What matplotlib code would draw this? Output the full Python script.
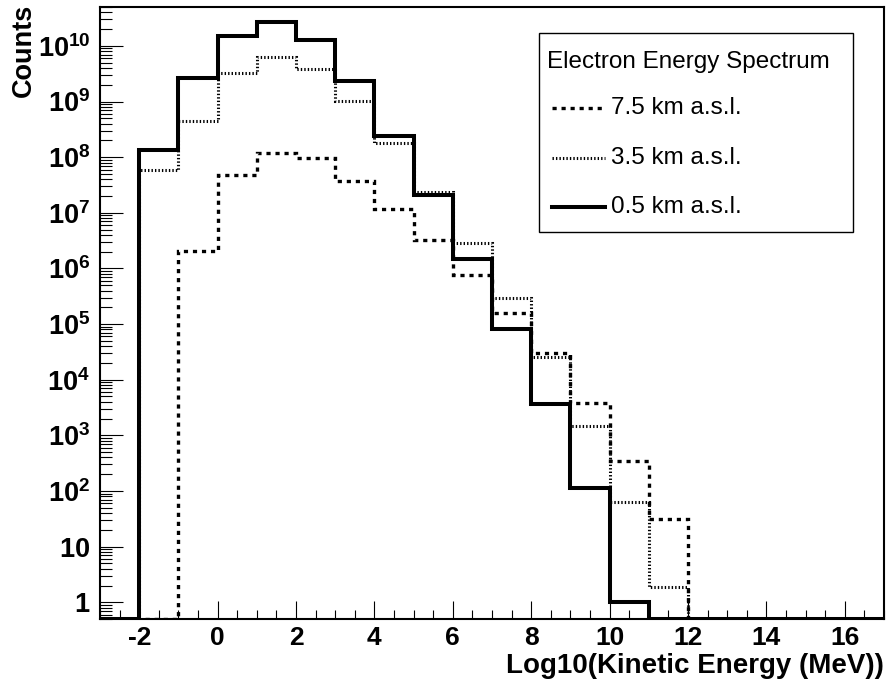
import matplotlib
matplotlib.use('Agg')
import matplotlib.pyplot as plt
from matplotlib.lines import Line2D
from matplotlib.patches import Rectangle
import numpy as np

plt.rcParams['font.family'] = ['Liberation Sans', 'DejaVu Sans']
plt.rcParams['mathtext.fontset'] = 'custom'
plt.rcParams['mathtext.rm'] = 'Liberation Sans:bold'
plt.rcParams['mathtext.it'] = 'Liberation Sans:bold'
plt.rcParams['mathtext.bf'] = 'Liberation Sans:bold'
plt.rcParams['lines.scale_dashes'] = False

# bin edges: log10(E/MeV) from -3 to 17, one unit wide
edges = np.arange(-3, 18)

# counts per bin
km75 = [0, 0, 2.1e6, 4.7e7, 1.2e8, 9.6e7, 3.7e7, 1.15e7, 3.2e6, 7.6e5,
        1.6e5, 3.0e4, 3.8e3, 3.5e2, 32, 0, 0, 0, 0, 0]
km35 = [0, 5.9e7, 4.4e8, 3.3e9, 6.3e9, 3.8e9, 1.04e9, 1.8e8, 2.4e7, 2.9e6,
        3.0e5, 2.6e4, 1.5e3, 63, 1.9, 0, 0, 0, 0, 0]
km05 = [0, 1.35e8, 2.6e9, 1.5e10, 2.7e10, 1.3e10, 2.3e9, 2.4e8, 2.1e7, 1.5e6,
        8.1e4, 3.6e3, 112, 1.0, 0, 0, 0, 0, 0, 0]

labels = ['7.5 km a.s.l.', '3.5 km a.s.l.', '0.5 km a.s.l.']
YMIN, YMAX = 0.5, 5e10

W, H = 887, 691
fig = plt.figure(figsize=(W / 100, H / 100), dpi=100)
ax = fig.add_axes([100 / W, 72 / H, 784 / W, 612 / H])

styles = [dict(linewidth=2.4, linestyle=(0, (3, 3.5))),
          dict(linewidth=2.2, linestyle=(0, (1.0, 1.5))),
          dict(linewidth=2.9, linestyle='-')]


def draw(vals, st):
    v = np.array(vals, dtype=float)
    v[v <= 0] = YMIN  # empty bins drawn on the frame, like ROOT
    ax.stairs(v, edges, baseline=None, color='black', **st)


draw(km75, styles[0])
draw(km05, styles[2])
draw(km35, styles[1])

ax.set_yscale('log')
ax.set_xlim(-3, 17)
ax.set_ylim(YMIN, YMAX)

ax.set_xticks(np.arange(-2, 17, 2))
ax.set_xticks(np.arange(-3, 17.01, 0.5), minor=True)
ax.set_xticklabels([str(t) for t in range(-2, 17, 2)])

yt = [10.0 ** k for k in range(0, 11)]
ax.set_yticks(yt)
ax.yaxis.set_minor_locator(matplotlib.ticker.LogLocator(base=10, subs=np.arange(2, 10), numticks=30))
ax.yaxis.set_minor_formatter(matplotlib.ticker.NullFormatter())
ylab = [r'$1\ $', r'$10\ $'] + [r'$10^{%d}$' % k for k in range(2, 11)]
ax.set_yticklabels(ylab)

ax.tick_params(axis='both', which='both', direction='in', top=False, right=False, width=0.8)
ax.tick_params(axis='y', which='major', length=16.5, labelsize=19.5, pad=7)
ax.tick_params(axis='y', which='minor', length=8.6)
ax.tick_params(axis='x', which='major', length=13, labelsize=19, pad=5)
ax.tick_params(axis='x', which='minor', length=6.5)
for lab in ax.get_xticklabels() + ax.get_yticklabels():
    lab.set_fontweight('bold')
for s in ax.spines.values():
    s.set_linewidth(1.5)

ax.set_xlabel('Log10(Kinetic Energy (MeV))', fontsize=20, fontweight='bold', loc='right')
ax.xaxis.label.set_va('center')
ax.xaxis.set_label_coords(1.0, -0.076)
ax.set_ylabel('Counts', fontsize=19.5, fontweight='bold', loc='top')
ax.yaxis.set_label_coords(-0.080, 1.006)

# legend box drawn ROOT-style (title as first row)
tf = fig.transFigure
fig.add_artist(Rectangle((539 / W, 1 - 232 / H), 314 / W, 199 / H, transform=tf,
                         facecolor='white', edgecolor='black', linewidth=1.0, zorder=5))
fig.text(547 / W, 1 - 62 / H, 'Electron Energy Spectrum', fontsize=17.5,
         va='center', ha='left', zorder=6)
for i, (lab, st) in enumerate(zip(labels, styles)):
    yy = 1 - (108 + 49.5 * i) / H
    fig.add_artist(Line2D([552 / W, 605 / W], [yy, yy], transform=tf, color='black', zorder=6, **st))
    fig.text(611 / W, yy, lab, fontsize=17.5, va='center', ha='left', zorder=6)

fig.savefig('out.png', dpi=100)
